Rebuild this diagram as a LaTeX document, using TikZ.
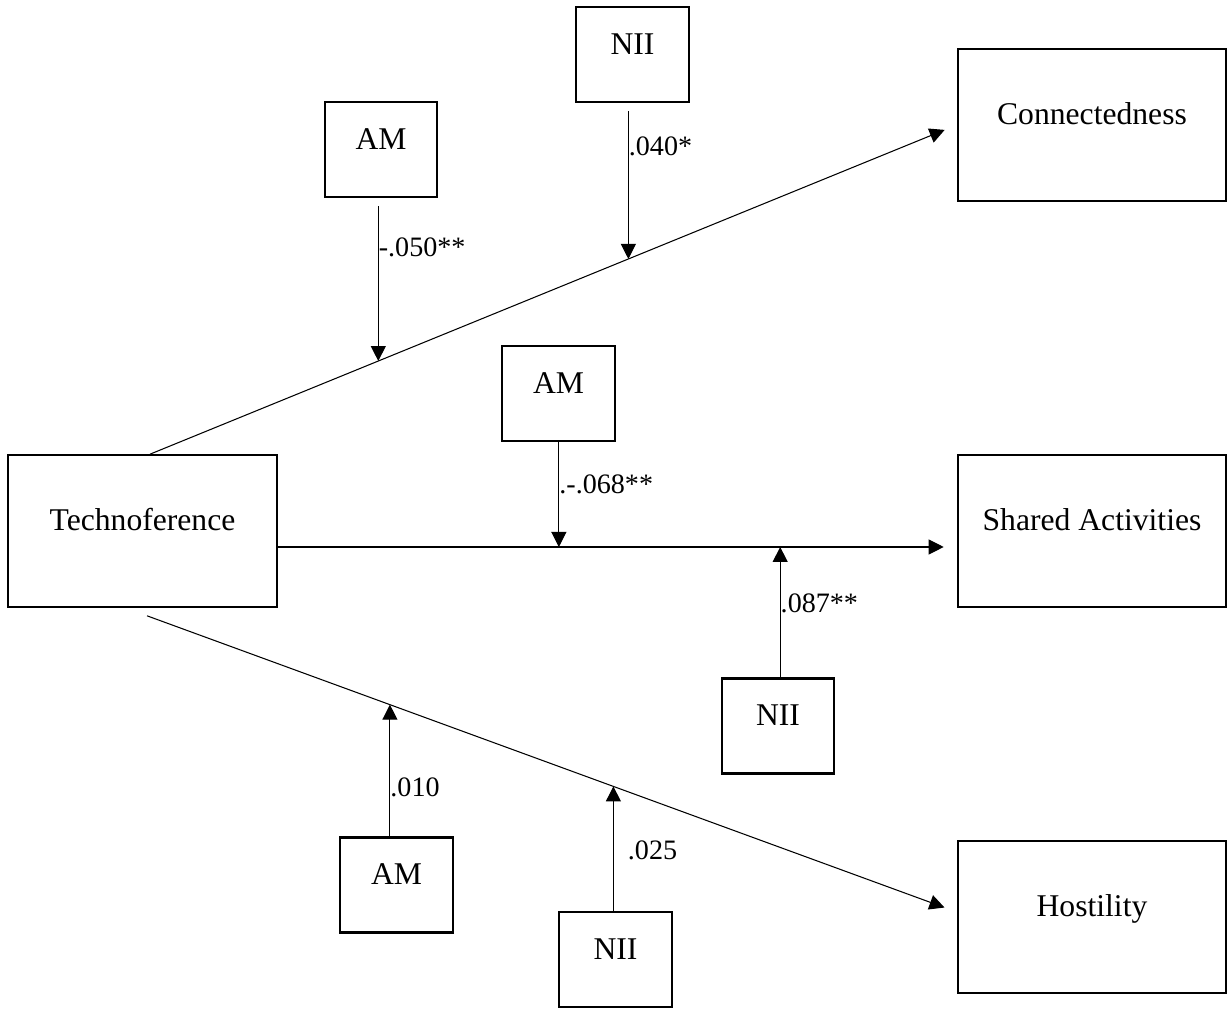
\documentclass[tikz,border=0pt]{standalone}
\usepackage{fontspec}
\setmainfont{Liberation Serif}
\usetikzlibrary{arrows.meta}

\begin{document}
\begin{tikzpicture}[
  every node/.style={font=\fontsize{18}{22}\selectfont},
  mainbox/.style={draw,line width=1.2pt,minimum width=5.37cm,minimum height=3.03cm,text height=0.5cm,text depth=0.5cm},
  modbox/.style={draw,line width=1.2pt,minimum width=2.25cm,minimum height=1.9cm,text height=0.5cm,text depth=0.5cm},
  effect/.style={line width=0.6pt,-{Triangle[length=0.3cm,width=0.3cm]},shorten >=0.26cm},
  modarrow/.style={line width=0.6pt,-{Triangle[length=0.3cm,width=0.3cm]}},
  coef/.style={font=\fontsize{16}{19}\selectfont,anchor=west,inner sep=0pt}
]
  \useasboundingbox (0,0) rectangle (24.56,20.18);
  \node[mainbox] (tech) at (2.85,9.56) {Technoference};
  \foreach \nm/\lbl/\y in {conn/Connectedness/17.68, shared/Shared Activities/9.56, host/Hostility/1.84}
    \node[mainbox] (\nm) at (21.84,\y) {\lbl};
  \node[modbox] (niiA) at (12.65,19.09) {NII};
  \node[modbox] (amA) at (7.62,17.19) {AM};
  \node[modbox] (amB) at (11.17,12.31) {AM};
  \node[modbox] (niiB) at (15.56,5.66) {NII};
  \node[modbox] (amC) at (7.93,2.48) {AM};
  \node[modbox] (niiC) at (12.31,0.99) {NII};

  \draw[effect] ([xshift=0.15cm]tech.north) -- coordinate[pos=0.283] (onA) coordinate[pos=0.593] (onB) (conn.west);
  \draw[effect] ([yshift=-0.32cm]tech.east) -- coordinate[pos=0.414] (onC) coordinate[pos=0.74] (onD) ([yshift=-0.32cm]shared.west);
  \draw[effect] ([shift={(0.09,-0.16)}]tech.south) -- coordinate[pos=0.3] (onE) coordinate[pos=0.576] (onF) ([yshift=0.1cm]host.west);

  \draw[modarrow,shorten <=0.16cm] (amA.south -| onA) -- node[coef,pos=0.3] {-.050**} (onA);
  \draw[modarrow,shorten <=0.16cm] (niiA.south -| onB) -- node[coef,pos=0.28] {.040*} (onB);
  \draw[modarrow] (amB.south -| onC) -- node[coef,pos=0.4] {.-.068**} (onC);
  \draw[modarrow] (niiB.north -| onD) -- node[coef,pos=0.57] {.087**} (onD);
  \draw[modarrow] (amC.north -| onE) -- node[coef,pos=0.376] {.010} (onE);
  \draw[modarrow] (niiC.north -| onF) -- node[coef,pos=0.49,xshift=0.28cm] {.025} (onF);
\end{tikzpicture}
\end{document}
